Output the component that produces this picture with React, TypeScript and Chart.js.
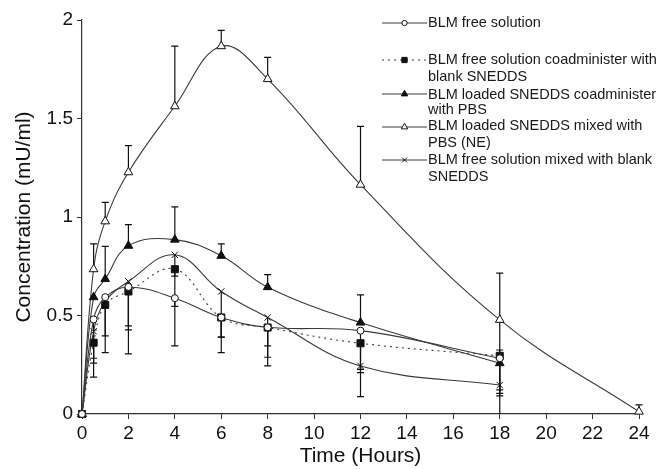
import React, { useEffect, useRef } from "react";
import { Chart, registerables } from "chart.js";
import { drawPoint } from "chart.js/helpers";

Chart.register(...registerables);

// ---- data ----
const times = [0, 0.5, 1, 2, 4, 6, 8, 12, 18];
const timesNE = [0, 0.5, 1, 2, 4, 6, 8, 12, 18, 24];

const freeSolution = [0, 0.48, 0.593, 0.645, 0.588, 0.49, 0.44, 0.423, 0.283];
const freeCoadminBlank = [0, 0.362, 0.554, 0.622, 0.735, 0.49, 0.439, 0.359, 0.295];
const loadedCoadminPBS = [0, 0.593, 0.685, 0.854, 0.885, 0.803, 0.644, 0.464, 0.258];
const loadedMixedPBS = [0, 0.735, 0.978, 1.227, 1.562, 1.867, 1.7, 1.164, 0.478, 0.012];
const freeMixedBlank = [0, 0.42, 0.57, 0.673, 0.808, 0.622, 0.49, 0.244, 0.147];

// error bars (SD) – null where the bar is not drawn
const freeSolutionUp = [null, null, null, null, null, null, null, null, null];
const freeSolutionDown = [null, 0.197, 0.196, 0.198, 0.242, 0.1, 0.196, 0.335, 0.191];
const freeCoadminBlankUp = [null, null, null, null, null, null, null, null, null];
const freeCoadminBlankDown = [null, 0.175, 0.242, 0.317, 0.189, 0.178, 0.151, 0.132, 0.19];
const loadedCoadminPBSUp = [null, null, 0.166, 0.107, 0.166, 0.061, 0.063, 0.141, 0.067];
const loadedCoadminPBSDown = [null, null, null, null, null, null, null, null, null];
const loadedMixedPBSUp = [null, 0.129, 0.096, 0.135, 0.305, 0.08, 0.11, 0.296, 0.237, 0.034];
const loadedMixedPBSDown = [null, null, null, null, null, null, null, null, 0.52, null];
const freeMixedBlankUp = [null, null, null, null, null, null, null, null, null];
const freeMixedBlankDown = [null, 0.162, null, 0.246, 0.108, 0.232, 0.144, 0.034, 0.025];

const seriesLabels = [
  ["BLM free solution"],
  ["BLM free solution coadminister with", "blank SNEDDS"],
  ["BLM loaded SNEDDS coadminister", "with PBS"],
  ["BLM loaded SNEDDS mixed with", "PBS (NE)"],
  ["BLM free solution mixed with blank", "SNEDDS"],
];

const xTitle = "Time (Hours)";
const yTitle = "Concentration (mU/ml)";

const LINE = "#3a3a3a";
const INK = "#111";
const FONT = "Arial, 'Liberation Sans', Helvetica, sans-serif";

const errors = [
  { up: freeSolutionUp, down: freeSolutionDown },
  { up: freeCoadminBlankUp, down: freeCoadminBlankDown },
  { up: loadedCoadminPBSUp, down: loadedCoadminPBSDown },
  { up: loadedMixedPBSUp, down: loadedMixedPBSDown },
  { up: freeMixedBlankUp, down: freeMixedBlankDown },
];

const errorBarPlugin = {
  id: "errorBars",
  beforeDatasetsDraw(chart: any) {
    const { ctx, chartArea, scales } = chart;
    const xs = scales.x;
    const ys = scales.y;
    ctx.save();
    ctx.beginPath();
    ctx.rect(chartArea.left - 20, 0, chartArea.right - chartArea.left + 40, chartArea.bottom);
    ctx.clip();
    ctx.strokeStyle = INK;
    ctx.lineWidth = 1.2;
    const cap = 3.5;
    chart.data.datasets.forEach((ds: any, i: number) => {
      const err = errors[i];
      ds.data.forEach((p: any, j: number) => {
        const px = xs.getPixelForValue(p.x);
        const py = ys.getPixelForValue(p.y);
        [err.up[j], err.down[j]].forEach((e: any, k: number) => {
          if (e == null) return;
          const v = k === 0 ? p.y + e : p.y - e;
          const ey = ys.getPixelForValue(v);
          ctx.beginPath();
          ctx.moveTo(px, py);
          ctx.lineTo(px, ey);
          ctx.moveTo(px - cap, ey);
          ctx.lineTo(px + cap, ey);
          ctx.stroke();
        });
      });
    });
    ctx.restore();
  },
};

const legendPlugin = {
  id: "customLegend",
  afterDraw(chart: any) {
    const { ctx } = chart;
    const x0 = 382;
    const x1 = 427;
    const tx = 428;
    const rows = [23, 60, 94, 127, 160];
    const textRows = [[23], [60, 76.5], [95, 110], [126, 142.5], [160, 176.5]];
    ctx.save();
    chart.data.datasets.forEach((ds: any, i: number) => {
      const y = rows[i];
      ctx.beginPath();
      ctx.strokeStyle = LINE;
      ctx.lineWidth = 1;
      ctx.setLineDash(ds.borderDash || []);
      ctx.moveTo(x0, y);
      ctx.lineTo(x1, y);
      ctx.stroke();
      ctx.setLineDash([]);
      ctx.fillStyle = ds.pointBackgroundColor;
      ctx.strokeStyle = INK;
      ctx.lineWidth = 1;
      drawPoint(ctx, { pointStyle: ds.pointStyle, radius: ds.pointRadius * 0.75, rotation: 0, borderWidth: 1 }, (x0 + x1) / 2, y);
      ctx.fillStyle = "#1a1a1a";
      ctx.font = `14.5px ${FONT}`;
      ctx.textBaseline = "middle";
      ctx.textAlign = "left";
      seriesLabels[i].forEach((t, k) => {
        ctx.fillText(t, tx, textRows[i][k]);
      });
    });
    ctx.restore();
  },
};

function pts(xs: number[], ys: number[]) {
  return xs.map((x, i) => ({ x, y: ys[i] }));
}

export default function App() {
  const ref = useRef<HTMLCanvasElement | null>(null);
  useEffect(() => {
    if (!ref.current) return;
    const common = {
      borderColor: LINE,
      borderWidth: 1.1,
      tension: 0.4,
      pointBorderColor: INK,
      pointBorderWidth: 1,
      clip: false as any,
      fill: false,
    };
    const chart = new Chart(ref.current, {
      type: "line",
      data: {
        datasets: [
          { ...common, label: seriesLabels[0].join(" "), data: pts(times, freeSolution), pointStyle: "circle", pointRadius: 3.5, pointBackgroundColor: "#fff" },
          { ...common, label: seriesLabels[1].join(" "), data: pts(times, freeCoadminBlank), pointStyle: "rect", pointRadius: 5, pointBackgroundColor: INK, borderDash: [2, 4] },
          { ...common, label: seriesLabels[2].join(" "), data: pts(times, loadedCoadminPBS), pointStyle: "triangle", pointRadius: 5, pointBackgroundColor: INK },
          { ...common, label: seriesLabels[3].join(" "), data: pts(timesNE, loadedMixedPBS), pointStyle: "triangle", pointRadius: 5, pointBackgroundColor: "#fff" },
          { ...common, label: seriesLabels[4].join(" "), data: pts(times, freeMixedBlank), pointStyle: "crossRot", pointRadius: 4.5, pointBackgroundColor: INK },
        ] as any,
      },
      options: {
        animation: false,
        responsive: false,
        maintainAspectRatio: false,
        layout: { padding: { top: 20, right: 20, left: 0, bottom: 0 } },
        plugins: { legend: { display: false }, tooltip: { enabled: false } },
        scales: {
          x: {
            type: "linear",
            min: 0,
            max: 24,
            ticks: { stepSize: 2, color: "#111", font: { size: 19, family: FONT }, padding: 3, maxRotation: 0 },
            grid: { display: true, drawOnChartArea: false, drawTicks: true, tickLength: 5, color: "#333", lineWidth: 1 },
            border: { display: true, color: "#333", width: 1.2 },
            title: { display: true, text: xTitle, color: "#111", font: { size: 21, family: FONT, lineHeight: 1.2 }, padding: { top: 0, bottom: 0 } },
            afterFit: (s: any) => { s.height = 55; },
          },
          y: {
            type: "linear",
            min: 0,
            max: 2,
            ticks: {
              stepSize: 0.5,
              color: "#111",
              font: { size: 19, family: FONT },
              padding: 4,
              callback: (v: any) => String(v),
            },
            grid: { display: true, drawOnChartArea: false, drawTicks: true, tickLength: 5, color: "#333", lineWidth: 1 },
            border: { display: true, color: "#333", width: 1.2 },
            title: { display: true, text: yTitle, color: "#111", font: { size: 21, family: FONT, lineHeight: 1.2 }, padding: { top: 12, bottom: 0 } },
            afterFit: (s: any) => { s.width = 82; },
          },
        },
      } as any,
      plugins: [errorBarPlugin, legendPlugin],
    });
    return () => chart.destroy();
  }, []);
  return (
    <div style={{ position: "fixed", left: 0, top: 0, width: 659, height: 469, background: "#fff" }}>
      <canvas ref={ref} width={659} height={469} style={{ width: 659, height: 469, display: "block" }} />
    </div>
  );
}
